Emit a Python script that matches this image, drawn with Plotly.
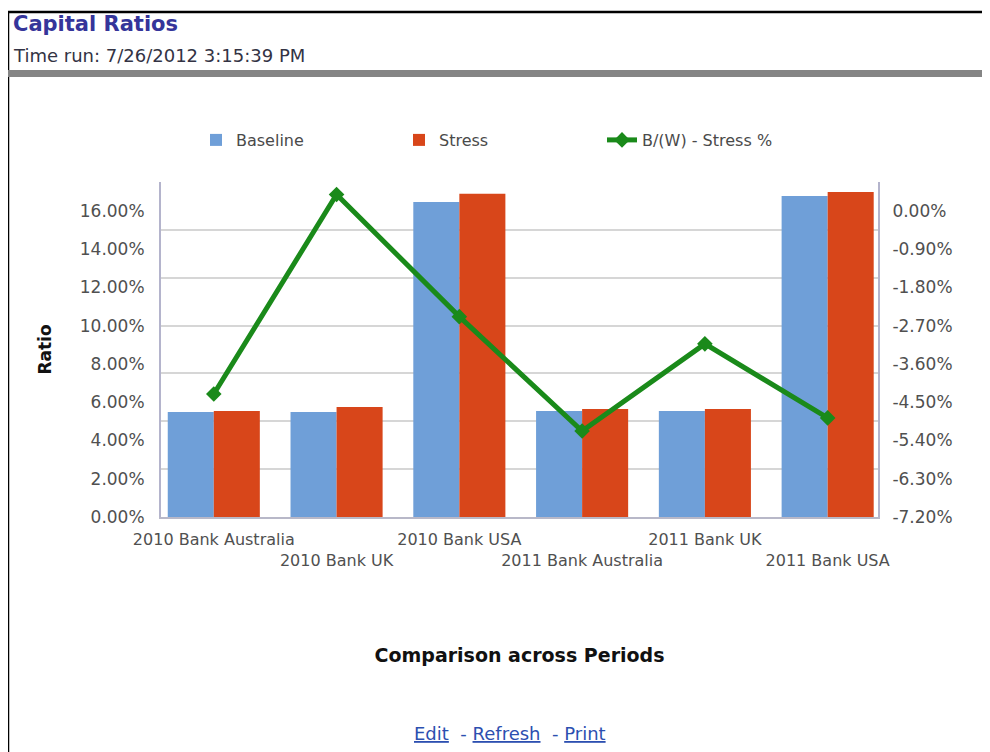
import plotly.graph_objects as go

# ---------------- data ----------------
categories = ["2010 Bank Australia", "2010 Bank UK", "2010 Bank USA",
              "2011 Bank Australia", "2011 Bank UK", "2011 Bank USA"]
baseline = [5.49, 5.49, 16.46, 5.54, 5.54, 16.77]          # Ratio, %
stress = [5.54, 5.75, 16.88, 5.64, 5.64, 16.98]            # Ratio, %
bw_stress = [-4.31, 0.38, -2.49, -5.18, -3.13, -4.87]      # B/(W) - Stress %
left_ticks = [0, 2, 4, 6, 8, 10, 12, 14, 16]
right_ticks = [-7.2, -6.3, -5.4, -4.5, -3.6, -2.7, -1.8, -0.9, 0.0]

# ---------------- geometry helpers ----------------
OFF = 8                      # page body margin added by the browser
W, H = 990 - OFF, 752 - OFF
L, R, T, B = 161 - OFF, 878 - OFF, 182 - OFF, 517 - OFF   # plot area (figure px)


def px(x):
    """reference-screen x -> paper x"""
    return (x - OFF - L) / (R - L)


def py(y):
    """reference-screen y -> paper y"""
    return (B - (y - OFF)) / (B - T)


FONT = "DejaVu Sans"
TICK_COLOR = "#505050"

# staggered category labels (odd ones on a second row)
ticktext = [c if i % 2 == 0 else "<br>" + c for i, c in enumerate(categories)]
left_text = [f"{v:.2f}%" for v in left_ticks]
right_text = [f"{v:.2f}%".replace("-0.00", "0.00") for v in right_ticks]

fig = go.Figure()
fig.add_trace(go.Bar(x=categories, y=baseline, name="Baseline",
                     marker=dict(color="#6f9fd8", line=dict(width=0))))
fig.add_trace(go.Bar(x=categories, y=stress, name="Stress",
                     marker=dict(color="#d8461a", line=dict(width=0))))
fig.add_trace(go.Scatter(x=categories, y=bw_stress, name="B/(W) - Stress %",
                         yaxis="y2", mode="lines+markers",
                         line=dict(color="#1a8a1a", width=5),
                         marker=dict(symbol="diamond", size=12, color="#1a8a1a")))
# carrier for the background grid axis
fig.add_trace(go.Scatter(x=[categories[0]], y=[0], yaxis="y3", mode="markers",
                         marker=dict(opacity=0), showlegend=False, hoverinfo="skip"))

fig.update_layout(
    width=W, height=H,
    margin=dict(l=L, r=W - R, t=T, b=H - B, pad=0),
    paper_bgcolor="white", plot_bgcolor="white",
    barmode="group", bargap=0.25, bargroupgap=0.0,
    font=dict(family=FONT, size=15, color=TICK_COLOR),
    showlegend=True,
    legend=dict(orientation="h", x=px(196), xanchor="left", y=py(140), yanchor="middle",
                font=dict(family=FONT, size=16, color="#4a4a4a"),
                entrywidth=158, itemwidth=30, bgcolor="rgba(0,0,0,0)",
                traceorder="normal"),
    xaxis=dict(
        type="category", range=[-0.43, 5.41],
        tickmode="array", tickvals=categories, ticktext=ticktext, tickangle=0,
        tickfont=dict(family=FONT, size=16, color=TICK_COLOR),
        showline=True, linecolor="#b8b8c8", linewidth=2,
        showgrid=False, ticks="", ticklabelstandoff=7,
        title=dict(text="<b>Comparison across Periods</b>", standoff=80,
                   font=dict(family=FONT, size=19, color="#111111")),
    ),
    yaxis=dict(
        range=[0, 17.5], tickmode="array", tickvals=left_ticks, ticktext=left_text,
        tickfont=dict(family=FONT, size=17, color=TICK_COLOR),
        showline=True, linecolor="#b4b4cc", linewidth=2,
        showgrid=False, zeroline=False, ticks="", ticklabelstandoff=11,
        title=dict(text="<b>Ratio</b>", standoff=24,
                   font=dict(family=FONT, size=17, color="#111111")),
    ),
    yaxis2=dict(
        overlaying="y", side="right", range=[-7.2, 0.675],
        tickmode="array", tickvals=right_ticks, ticktext=right_text,
        tickfont=dict(family=FONT, size=17, color=TICK_COLOR),
        showline=True, linecolor="#b4b4cc", linewidth=2,
        showgrid=False, zeroline=False, ticks="", ticklabelstandoff=9,
    ),
    yaxis3=dict(
        overlaying="y", range=[0, 17.5], dtick=2.5, tick0=0,
        showgrid=True, gridcolor="#d6d6d6", gridwidth=2,
        showticklabels=False, showline=False, zeroline=False, ticks="",
    ),
)

# page chrome: frame lines and header bar
fig.add_shape(type="line", xref="paper", yref="paper",
              x0=px(8), x1=px(995), y0=py(12), y1=py(12),
              line=dict(color="#000000", width=2.5))
fig.add_shape(type="line", xref="paper", yref="paper",
              x0=px(8), x1=px(8), y0=py(12), y1=py(760),
              line=dict(color="#000000", width=2.5))
fig.add_shape(type="rect", xref="paper", yref="paper",
              x0=px(8), x1=px(995), y0=py(70), y1=py(77),
              line=dict(width=0), fillcolor="#858585")

fig.add_annotation(text="<b>Capital Ratios</b>", xref="paper", yref="paper",
                   x=px(11), y=py(24), xanchor="left", yanchor="middle", showarrow=False,
                   font=dict(family=FONT, size=21, color="#35359a"))
fig.add_annotation(text="Time run: 7/26/2012 3:15:39 PM", xref="paper", yref="paper",
                   x=px(11), y=py(56), xanchor="left", yanchor="middle", showarrow=False,
                   font=dict(family=FONT, size=18, color="#333344"))
fig.add_annotation(text="<u>Edit</u>  - <u>Refresh</u>  - <u>Print</u>",
                   xref="paper", yref="paper",
                   x=px(510), y=py(733), xanchor="center", yanchor="middle", showarrow=False,
                   font=dict(family=FONT, size=18, color="#2c4fb0"))

fig.write_html("out.html")
